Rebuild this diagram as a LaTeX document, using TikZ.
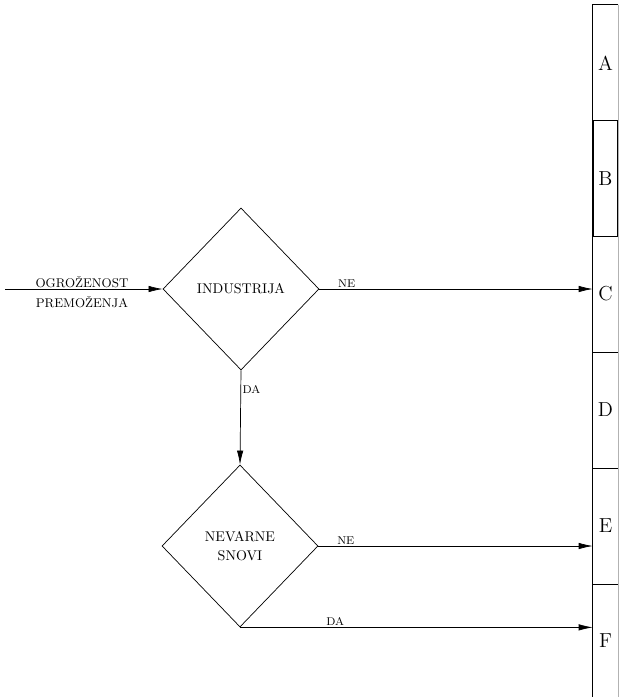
\documentclass[tikz,border=0pt]{standalone}
\usepackage{fontspec}
\usepackage{tikz}
\usetikzlibrary{shapes.geometric, arrows.meta, positioning}
\tikzstyle{arrow} = [
    line width=0.5pt,
    -{Latex[length=3.5mm,width=1.6mm]},
    draw=black
]

\begin{document}
\begin{tikzpicture}[
    x=0.025cm, y=-0.025cm,
    decision/.style={
        draw,
        diamond,
        line width=0.5pt,
        inner sep=0pt,
        align=center,
        font=\normalsize,
        minimum width=3.9cm,
        minimum height=4.05cm
    },
    cell/.style={
        rectangle,
        inner sep=0pt,
        minimum width=0.625cm,
        minimum height=2.9cm,
        font=\Large
    },
    edgelabel/.style={
        font=\footnotesize,
        inner sep=1pt
    }
]
\useasboundingbox (0,0) rectangle (620,697);

% Nodes
\node (industrija) [decision] at (241,289) {INDUSTRIJA};
\node (snovi) [decision] at (240,546) {NEVARNE\\[1pt] SNOVI};
\coordinate (start) at (5,289);
\node (inlabel) [font=\small, align=center] at (82,292) {OGROŽENOST\\[3pt] PREMOŽENJA};

% Column of classes
\node (cellA) [cell] at (605.5,63) {A};
\node (cellB) [cell, draw, line width=1.3pt] at (605.5,178.5) {B};
\node (cellC) [cell] at (605.5,294) {C};
\node (cellD) [cell] at (605.5,410) {D};
\node (cellE) [cell] at (605.5,526) {E};
\node (cellF) [cell, minimum height=2.85cm] at (605.5,640.5) {F};

\draw[line width=0.5pt] (cellA.north east) -- (cellA.north west) -- (cellF.south west);
\draw[thin, gray!60] (cellA.north east) -- (cellF.south east);
\foreach \c in {C,D,E}
    \draw[thin] (cell\c.south west) -- (cell\c.south east);

% Edges
\draw[arrow] (start) -- (industrija.west);
\draw[arrow] (industrija.east) -- (industrija.east -| cellC.west)
    node[edgelabel, pos=0.1, above] {NE};
\draw[arrow] (industrija.south) -- (snovi.north)
    node[edgelabel, pos=0.2, right] {DA};
\draw[arrow] (snovi.east) -- (snovi.east -| cellE.west)
    node[edgelabel, pos=0.1, above] {NE};
\draw[arrow] (snovi.south) -- (snovi.south -| cellF.west)
    node[edgelabel, pos=0.27, above] {DA};

\end{tikzpicture}
\end{document}
